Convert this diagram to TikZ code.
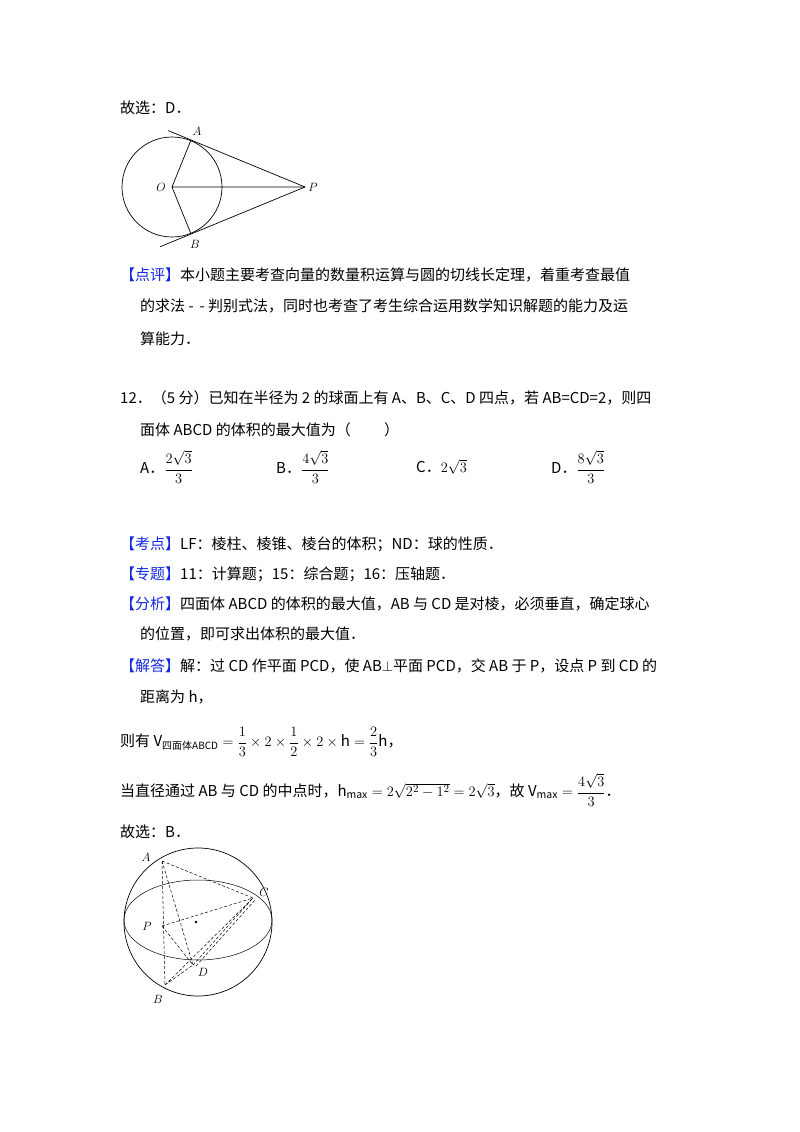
\documentclass[tikz,border=0pt]{standalone}
\usepackage{fontspec}
\setmainfont{Noto Sans CJK SC}
\usetikzlibrary{calc}
\definecolor{hb}{RGB}{20,40,230}
\newcommand{\hd}[1]{\textcolor{hb}{【#1】}}
\begin{document}
\begin{tikzpicture}[x=1pt,y=-1pt,
  t/.style={anchor=west,inner sep=0pt,font=\fontsize{15}{18}\selectfont},
  lab/.style={inner sep=0pt,font=\fontsize{13}{15}\selectfont},
  dl/.style={dashed,dash pattern=on 3pt off 2pt,line width=0.5pt}]
\useasboundingbox (0,0) rectangle (800,1132);
\fill[white] (0,0) rectangle (800,1132);
\node[t] (l1) at (120,108) {故选：D．};
% figure 1
\coordinate (O) at (172,187); \coordinate (P) at (305,187);
\coordinate (A) at (191,140); \coordinate (B) at (191,234);
\draw[line width=0.7pt] (O) circle (50);
\draw[line width=0.7pt] (P) -- ($(P)!1.2!(A)$) coordinate (A2);
\draw[line width=0.7pt] (P) -- ($(P)!1.27!(B)$) coordinate (B2);
\draw[line width=0.7pt] (O) -- (A) (O) -- (B) (O) -- (P);
\node[lab] (la) at (197,131) {$A$};
\node[lab] (lb) at (195,244) {$B$};
\node[lab] (lo) at (161,187) {$O$};
\node[lab] (lp) at (313,187) {$P$};
\node[t] (l2) at (120,275) {\hd{点评}本小题主要考查向量的数量积运算与圆的切线长定理，着重考查最值};
\node[t] (l3) at (140,306) {的求法 - \,- 判别式法，同时也考查了考生综合运用数学知识解题的能力及运};
\node[t] (l4) at (140,339) {算能力．};
\node[t] (l5) at (120,398) {12．（5 分）已知在半径为 2 的球面上有 A、B、C、D 四点，若 AB=CD=2，则四};
\node[t] (l6) at (140,430) {面体 ABCD 的体积的最大值为（\qquad\ ）};
\node[t] (o1) at (140,467) {A．$\displaystyle\frac{2\sqrt{3}}{3}$};
\node[t] (o2) at (276,467) {B．$\displaystyle\frac{4\sqrt{3}}{3}$};
\node[t] (o3) at (416,467) {C．$2\sqrt{3}$};
\node[t] (o4) at (551,467) {D．$\displaystyle\frac{8\sqrt{3}}{3}$};
\node[t] (l7) at (120,544) {\hd{考点}LF：棱柱、棱锥、棱台的体积；ND：球的性质．};
\node[t] (l8) at (120,574) {\hd{专题}11：计算题；15：综合题；16：压轴题．};
\node[t] (l9) at (120,604) {\hd{分析}四面体 ABCD 的体积的最大值，AB 与 CD 是对棱，必须垂直，确定球心};
\node[t] (l10) at (140,634) {的位置，即可求出体积的最大值．};
\node[t] (l11) at (120,666) {\hd{解答}解：过 CD 作平面 PCD，使 AB$\perp$平面 PCD，交 AB 于 P，设点 P 到 CD 的};
\node[t] (l12) at (140,697) {距离为 h，};
\node[t] (l13) at (120,742) {则有 $\displaystyle\mathrm{V}_{\mbox{\fontsize{10}{12}\selectfont 四面体ABCD}}=\frac{1}{3}\times2\times\frac{1}{2}\times2\times\mathrm{h}=\frac{2}{3}\mathrm{h}$，};
\node[t] (l14) at (120,790) {当直径通过 AB 与 CD 的中点时，$\mathrm{h}_{\max}=2\sqrt{2^2-1^2}=2\sqrt{3}$，故 $\displaystyle\mathrm{V}_{\max}=\frac{4\sqrt{3}}{3}$．};
\node[t] (l15) at (120,832) {故选：B．};
% figure 2
\draw[line width=0.7pt] (198,922) circle (74);
\draw[line width=0.5pt] (198,920) ellipse (74 and 40);
\coordinate (SA) at (162,861); \coordinate (SC) at (253,898);
\coordinate (SP) at (162,926); \coordinate (SD) at (193,965);
\coordinate (SB) at (165,985);
\draw[dl] (SA) -- (SC) (SA) -- (SB) (SA) -- (SD) (SP) -- (SC) (SP) -- (SD)
  (SB) -- (SD) (SB) -- (SC) (SD) -- (SC) ($(SD)+(3,1)$) -- ($(SC)+(2,2)$);
\fill (196,922) circle (1.3);
\node[lab] (sa) at (146,857) {$A$};
\node[lab] (sc) at (264,892) {$C$};
\node[lab] (sp) at (147,926) {$P$};
\node[lab] (sd) at (203,972) {$D$};
\node[lab] (sb) at (158,999) {$B$};
\end{tikzpicture}
\end{document}
